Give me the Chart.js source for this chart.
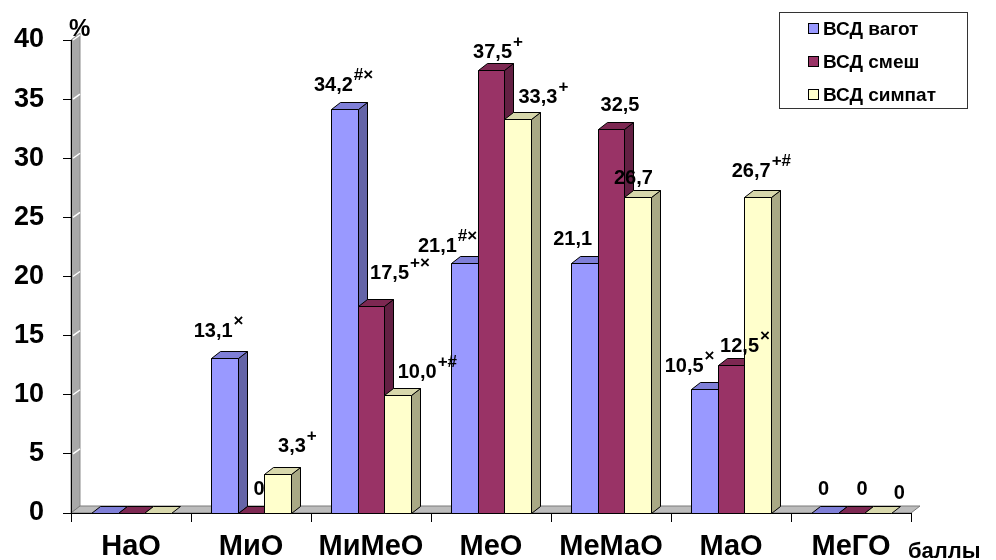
<!DOCTYPE html>
<html lang="ru">
<head>
<meta charset="utf-8">
<title>ВСД</title>
<script src="https://cdn.jsdelivr.net/npm/chart.js@4.4.0/dist/chart.umd.min.js"></script>
<style>
  html, body { margin: 0; padding: 0; background: #fff; }
  #wrap { width: 996px; height: 560px; }
</style>
</head>
<body>
<div id="wrap"><canvas id="myChart" width="996" height="560"></canvas></div>
<script>
const categories = ['НаО', 'МиО', 'МиМеО', 'МеО', 'МеМаО', 'МаО', 'МеГО'];
const yTicks = [0, 5, 10, 15, 20, 25, 30, 35, 40];

const vagot = [0, 13.1, 34.2, 21.1, 21.1, 10.5, 0];
const smesh = [0, 0, 17.5, 37.5, 32.5, 12.5, 0];
const simpat = [0, 3.3, 10.0, 33.3, 26.7, 26.7, 0];

// significance marks after each value; null = no label
const vagotMarks = [null, '×', '#×', '#×', '', '×', ''];
const smeshMarks = [null, '', '+×', '+', '', '×', ''];
const simpatMarks = [null, '+', '+#', '+', '', '+#', ''];

// label centre relative to bar top centre, px
const labelOffsets = [
  [null, [-6, -28], [-1, -25], [-17, -18], [-12, -25], [-15, -24], [-1, -25]],
  [null, [8, -25], [29, -34], [7, -19], [9, -25], [14, -20], [11, -25]],
  [null, [20, -29], [30, -24], [26, -23], [-4, -20], [4, -27], [22, -21]]
];

const FONT = '"Liberation Sans", Arial, sans-serif';
const DX = 9, DY = 7;
const NUM_SIZE = 20, SUP_SIZE = 17;

function fmt(v) {
  return v === 0 ? '0' : v.toFixed(1).replace('.', ',');
}

function poly(ctx, pts, fill) {
  ctx.beginPath();
  ctx.moveTo(pts[0][0], pts[0][1]);
  for (let i = 1; i < pts.length; i++) ctx.lineTo(pts[i][0], pts[i][1]);
  ctx.closePath();
  ctx.fillStyle = fill;
  ctx.fill();
  ctx.stroke();
}

// grey wall on the left and the floor strip
const backdrop = {
  id: 'backdrop',
  beforeDraw(chart) {
    const { ctx, chartArea: a, scales: { y } } = chart;
    ctx.save();
    ctx.lineWidth = 1;
    ctx.strokeStyle = '#8a8a8a';
    poly(ctx, [[a.left, a.bottom], [a.left, a.top], [a.left + DX, a.top - DY], [a.left + DX, a.bottom - DY]], '#a8a8a8');
    ctx.strokeStyle = '#fff';
    ctx.lineWidth = 1.5;
    yTicks.slice(1).forEach(v => {
      const ty = y.getPixelForValue(v);
      ctx.beginPath();
      ctx.moveTo(a.left + 2, ty);
      ctx.lineTo(a.left + DX, ty - DY + 2);
      ctx.stroke();
    });
    ctx.lineWidth = 1;
    ctx.strokeStyle = '#7a7a7a';
    poly(ctx, [[a.left, a.bottom], [a.left + DX, a.bottom - DY], [a.right + DX, a.bottom - DY], [a.right, a.bottom]], '#bcbcbc');
    ctx.restore();
  }
};

// 3D columns and value labels
const bars3d = {
  id: 'bars3d',
  beforeDatasetsDraw(chart) {
    const ctx = chart.ctx;
    const sets = chart.data.datasets;
    const metas = sets.map((d, i) => chart.getDatasetMeta(i));
    ctx.save();
    ctx.strokeStyle = '#000';
    ctx.lineWidth = 1;
    categories.forEach((c, j) => {
      sets.forEach((ds, i) => {
        const p = metas[i].data[j].getProps(['x', 'y', 'base', 'width'], true);
        const l = Math.round(p.x - p.width / 2) + 0.5;
        const r = Math.round(p.x + p.width / 2) + 0.5;
        const t = Math.round(p.y) + 0.5;
        const b = Math.round(p.base) + 0.5;
        if (b - t > 0.5) {
          poly(ctx, [[r, t], [r + DX, t - DY], [r + DX, b - DY], [r, b]], ds.sideColor);
          poly(ctx, [[l, t], [r, t], [r, b], [l, b]], ds.backgroundColor);
        }
        poly(ctx, [[l, t], [l + DX, t - DY], [r + DX, t - DY], [r, t]], ds.topColor);
      });
    });

    ctx.fillStyle = '#000';
    ctx.textBaseline = 'alphabetic';
    ctx.textAlign = 'left';
    sets.forEach((ds, i) => {
      ds.data.forEach((v, j) => {
        const mark = ds.marks[j];
        if (mark === null) return;
        const p = metas[i].data[j].getProps(['x', 'y'], true);
        const off = labelOffsets[i][j];
        const num = fmt(v);
        ctx.font = 'bold ' + NUM_SIZE + 'px ' + FONT;
        const w1 = ctx.measureText(num).width;
        ctx.font = 'bold ' + SUP_SIZE + 'px ' + FONT;
        const w2 = mark ? ctx.measureText(mark).width + 1 : 0;
        const cx = p.x + off[0];
        const cy = p.y + off[1];
        const x0 = cx - (w1 + w2) / 2;
        ctx.font = 'bold ' + NUM_SIZE + 'px ' + FONT;
        ctx.fillText(num, x0, cy + 7);
        if (mark) {
          ctx.font = 'bold ' + SUP_SIZE + 'px ' + FONT;
          ctx.fillText(mark, x0 + w1 + 1, cy - 4);
        }
      });
    });
    ctx.restore();
    return false;
  }
};

// legend box, unit and axis caption
const extras = {
  id: 'extras',
  afterDraw(chart) {
    const ctx = chart.ctx;
    ctx.save();
    ctx.fillStyle = '#000';
    ctx.textAlign = 'left';
    ctx.textBaseline = 'alphabetic';
    ctx.font = 'bold 24px ' + FONT;
    ctx.fillText('%', 69, 36);
    ctx.font = 'bold 22px ' + FONT;
    ctx.fillText('баллы', 908, 558);

    ctx.fillStyle = '#fff';
    ctx.fillRect(779.5, 12.5, 188, 96);
    ctx.strokeStyle = '#333';
    ctx.lineWidth = 1;
    ctx.strokeRect(779.5, 12.5, 188, 96);
    const rows = [29, 62, 95];
    chart.data.datasets.forEach((ds, i) => {
      ctx.fillStyle = ds.backgroundColor;
      ctx.fillRect(808.5, rows[i] - 5.5, 10, 10);
      ctx.strokeStyle = '#000';
      ctx.strokeRect(808.5, rows[i] - 5.5, 10, 10);
      ctx.fillStyle = '#000';
      ctx.font = 'bold 19px ' + FONT;
      ctx.textBaseline = 'middle';
      ctx.fillText(ds.label, 823, rows[i] + 1);
    });
    ctx.restore();
  }
};

new Chart(document.getElementById('myChart'), {
  type: 'bar',
  data: {
    labels: categories,
    datasets: [
      { label: 'ВСД вагот', data: vagot, marks: vagotMarks,
        backgroundColor: '#9999ff', topColor: '#7f7fd8', sideColor: '#6565a8' },
      { label: 'ВСД смеш', data: smesh, marks: smeshMarks,
        backgroundColor: '#993366', topColor: '#7d2852', sideColor: '#632043' },
      { label: 'ВСД симпат', data: simpat, marks: simpatMarks,
        backgroundColor: '#ffffcc', topColor: '#d8d8ac', sideColor: '#a9a985' }
    ]
  },
  options: {
    responsive: false,
    animation: false,
    events: [],
    categoryPercentage: 0.66,
    barPercentage: 1.0,
    layout: { padding: { top: 40, right: 85, bottom: 0, left: 0 } },
    plugins: { legend: { display: false }, tooltip: { enabled: false } },
    scales: {
      x: {
        grid: { drawOnChartArea: false, drawTicks: true, tickLength: 9, color: '#000', offset: true },
        border: { display: true, color: '#000', width: 1 },
        ticks: { color: '#000', font: { family: FONT, size: 29, weight: 'bold' }, padding: 8, maxRotation: 0, autoSkip: false },
        afterFit(s) { s.height = 47; }
      },
      y: {
        min: yTicks[0],
        max: yTicks[yTicks.length - 1],
        afterBuildTicks(s) { s.ticks = yTicks.map(v => ({ value: v })); },
        grid: { drawOnChartArea: false, drawTicks: true, tickLength: 8, color: '#000' },
        border: { display: true, color: '#000', width: 1 },
        ticks: { color: '#000', font: { family: FONT, size: 27, weight: 'bold' }, padding: 19 },
        afterFit(s) { s.width = 71; }
      }
    }
  },
  plugins: [backdrop, bars3d, extras]
});
</script>
</body>
</html>
